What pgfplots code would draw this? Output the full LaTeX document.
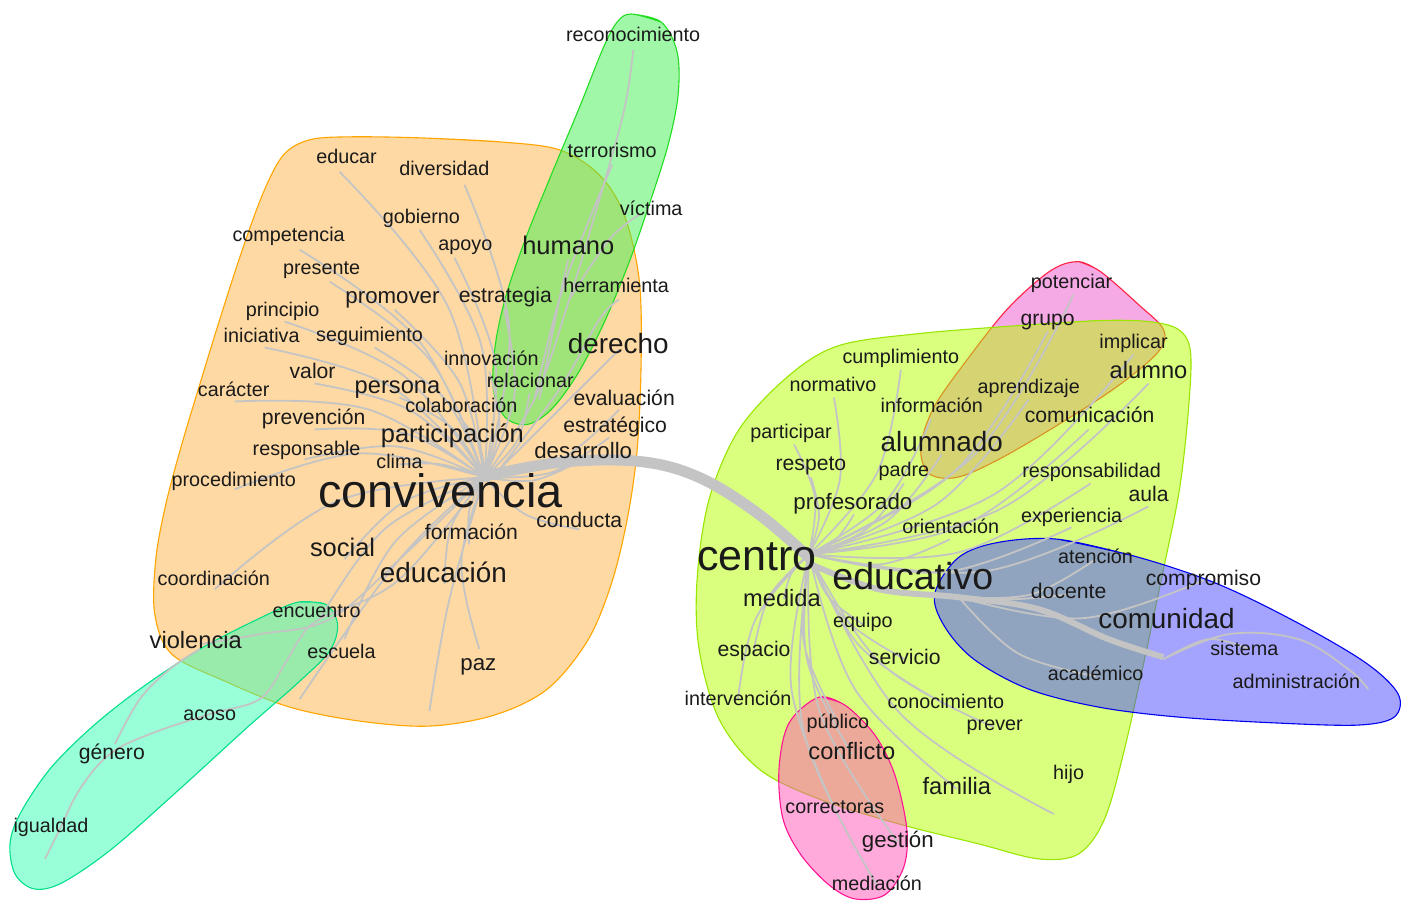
\documentclass[border=0pt]{standalone}
\usepackage{pgfplots}
\pgfplotsset{compat=1.18}
\usepackage{fontspec}
\setmainfont{Liberation Sans}

\definecolor{orF}{HTML}{FFB347}\definecolor{orS}{HTML}{FFA500}
\definecolor{grF}{HTML}{40F050}\definecolor{grS}{HTML}{22DD22}
\definecolor{teF}{HTML}{33FFB3}\definecolor{teS}{HTML}{00E08A}
\definecolor{liF}{HTML}{B5FF00}\definecolor{liS}{HTML}{99E600}
\definecolor{ptF}{HTML}{EE55CC}\definecolor{ptS}{HTML}{FF2244}
\definecolor{blF}{HTML}{4A4AFF}\definecolor{blS}{HTML}{0000EE}
\definecolor{pbF}{HTML}{FF55B5}\definecolor{pbS}{HTML}{FF1493}
\definecolor{edgegray}{HTML}{C4C4C4}
\definecolor{txtcol}{HTML}{1A1A1A}

\pgfplotsset{
  halo/.style={smooth, tension=0.55, fill opacity=0.5, line width=1.1pt, mark=none},
  edgelines/.style={draw=edgegray, line width=1.8pt, smooth, tension=0.6, mark=none, unbounded coords=jump},
  wordset/.style={only marks, mark=none, nodes near coords, point meta=explicit symbolic,
     every node near coord/.append style={font=\fontsize{#1}{#1}\selectfont,
       anchor=mid, inner sep=0pt, text=txtcol, yshift={-0.26*#1pt}}},
}

\begin{document}
\begin{tikzpicture}
\begin{axis}[
  width=1403pt, height=901pt, scale only axis,
  xmin=0, xmax=1403, ymin=0, ymax=901, y dir=reverse,
  hide axis, clip=false,
]
\draw[draw=none] (axis cs:0,0) rectangle (axis cs:1403,901);

% ---------- halos ----------
\addplot[halo, draw=orS, fill=orF] coordinates {
(420,138) (500,142) (560,150) (600,175) (625,215) (640,280) (642,360) (638,450) (628,520) (612,585) (588,642) (548,690) (495,716) (430,727) (360,722) (290,708) (225,682) (172,655) (155,615) (156,560) (166,505) (182,445) (200,385) (220,320) (242,252) (264,192) (284,155) (310,140) (350,137) (420,138) (500,142)};
\addplot[halo, draw=grS, fill=grF] coordinates {
(632,14) (662,22) (678,52) (679,95) (669,145) (650,205) (629,265) (604,325) (578,375) (552,410) (528,425) (506,418) (494,390) (496,345) (507,295) (527,237) (552,175) (580,108) (604,48) (618,22) (632,14) (662,22)};
\addplot[halo, draw=teS, fill=teF] coordinates {
(298,603) (326,605) (338,625) (330,652) (298,684) (248,728) (180,790) (112,850) (62,884) (34,890) (15,875) (10,845) (20,815) (50,770) (92,728) (140,690) (200,650) (258,620) (298,603) (326,605)};
\addplot[halo, draw=ptS, fill=ptF] coordinates {
(1080,262) (1102,272) (1140,305) (1165,330) (1160,352) (1120,386) (1060,425) (1000,460) (958,478) (930,474) (922,448) (935,408) (970,358) (1010,308) (1052,271) (1080,262) (1102,272)};
\addplot[halo, draw=liS, fill=liF] coordinates {
(1020,326) (1100,321) (1150,322) (1180,330) (1192,352) (1190,410) (1181,490) (1165,570) (1146,660) (1126,750) (1106,820) (1080,855) (1040,860) (980,845) (900,825) (820,800) (760,770) (720,720) (700,650) (698,580) (710,500) (740,430) (790,376) (840,346) (920,334) (1020,326) (1100,321)};
\addplot[halo, draw=blS, fill=blF] coordinates {
(1060,540) (1140,558) (1220,585) (1300,624) (1368,664) (1400,695) (1396,718) (1360,726) (1280,724) (1180,718) (1100,708) (1030,690) (975,660) (945,626) (936,594) (960,558) (1000,543) (1060,540) (1140,558)};
\addplot[halo, draw=pbS, fill=pbF] coordinates {
(820,698) (846,706) (876,736) (896,776) (908,830) (905,868) (886,896) (856,900) (830,886) (802,856) (784,820) (780,770) (790,724) (820,698) (846,706)};

% ---------- edges ----------
\addplot[edgelines] coordinates {
(485,478) (449,308) (340,172) (nan,nan)
(485,478) (510,329) (465,185) (nan,nan)
(485,478) (482,346) (420,230) (nan,nan)
(485,478) (420,342) (300,250) (nan,nan)
(485,478) (496,364) (455,258) (nan,nan)
(485,478) (431,361) (330,282) (nan,nan)
(485,478) (460,383) (395,310) (nan,nan)
(485,478) (515,396) (505,310) (nan,nan)
(485,478) (404,376) (285,322) (nan,nan)
(485,478) (391,387) (265,348) (nan,nan)
(485,478) (446,400) (375,348) (nan,nan)
(485,478) (500,426) (490,372) (nan,nan)
(485,478) (411,411) (315,384) (nan,nan)
(485,478) (452,428) (400,398) (nan,nan)
(485,478) (518,441) (530,394) (nan,nan)
(485,478) (369,410) (235,402) (nan,nan)
(485,478) (480,445) (460,418) (nan,nan)
(485,478) (561,460) (620,410) (nan,nan)
(485,478) (406,434) (315,430) (nan,nan)
(485,478) (552,473) (610,438) (nan,nan)
(485,478) (397,447) (305,460) (nan,nan)
(485,478) (359,454) (235,490) (nan,nan)
(485,478) (534,481) (580,462) (nan,nan)
(485,478) (526,515) (580,530) (nan,nan)
(485,478) (470,510) (470,545) (nan,nan)
(485,478) (405,502) (345,560) (nan,nan)
(485,478) (452,527) (445,585) (nan,nan)
(485,478) (337,502) (215,590) (nan,nan)
(485,478) (462,563) (480,650) (nan,nan)
(485,478) (396,542) (345,640) (nan,nan)
(485,478) (386,529) (320,620) (nan,nan)
(485,478) (442,465) (400,465) (nan,nan)
(485,478) (470,462) (455,445) (nan,nan)
(485,478) (450,600) (430,712) (nan,nan)
(485,478) (400,560) (300,700) (nan,nan)
(485,478) (535,400) (570,300) (600,200) (625,110) (634,50) (nan,nan)
(535,400) (560,300) (590,220) (613,165) (nan,nan)
(570,300) (610,240) (640,215) (nan,nan)
(500,470) (560,390) (600,320) (620,300) (nan,nan)
(540,400) (560,300) (569,260) (nan,nan)
(500,470) (560,410) (610,360) (620,350) (nan,nan)
(485,478) (400,560) (330,620) (260,635) (200,645) (nan,nan)
(485,478) (400,580) (320,620) (300,640) (285,665) (260,700) (210,715) (150,735) (110,755) (80,790) (60,830) (45,860) (nan,nan)
(115,745) (140,700) (170,670) (200,650) (nan,nan)
(810,555) (878,474) (902,370) (nan,nan)
(810,555) (841,480) (835,398) (nan,nan)
(810,555) (887,502) (932,420) (nan,nan)
(810,555) (816,498) (795,445) (nan,nan)
(810,555) (820,517) (812,478) (nan,nan)
(810,555) (866,531) (905,484) (nan,nan)
(810,555) (837,540) (855,515) (nan,nan)
(810,555) (889,521) (943,455) (nan,nan)
(810,555) (939,504) (1030,400) (nan,nan)
(810,555) (965,526) (1090,430) (nan,nan)
(810,555) (956,472) (1049,332) (nan,nan)
(810,555) (974,457) (1075,295) (nan,nan)
(810,555) (997,494) (1135,355) (nan,nan)
(810,555) (1001,510) (1150,384) (nan,nan)
(810,555) (960,553) (1092,484) (nan,nan)
(810,555) (986,572) (1150,507) (nan,nan)
(810,555) (945,573) (1073,528) (nan,nan)
(810,555) (882,565) (951,540) (nan,nan)
(810,555) (792,575) (785,600) (nan,nan)
(810,555) (829,597) (864,625) (nan,nan)
(810,555) (771,596) (755,650) (nan,nan)
(810,555) (845,619) (906,660) (nan,nan)
(810,555) (757,619) (739,700) (nan,nan)
(810,555) (860,646) (946,705) (nan,nan)
(810,555) (882,664) (995,728) (nan,nan)
(810,555) (805,644) (840,725) (nan,nan)
(810,555) (808,660) (853,755) (nan,nan)
(810,555) (792,686) (836,810) (nan,nan)
(810,555) (820,710) (899,843) (nan,nan)
(810,555) (804,729) (878,886) (nan,nan)
(810,555) (856,690) (958,790) (nan,nan)
(810,555) (901,714) (1055,815) (nan,nan)
(960,598) (1033,595) (1097,560) (nan,nan)
(960,598) (1015,600) (1070,595) (nan,nan)
(960,598) (1084,619) (1205,581) (nan,nan)
(960,598) (1019,654) (1097,677) (nan,nan)
(1165,660) (1210,640) (1250,650) (nan,nan)
(1165,660) (1230,635) (1300,640) (1350,670) (1370,690)
};
% thick edges
\addplot[draw=edgegray, line width=11pt, smooth, tension=0.6, mark=none] coordinates {
(480,478) (560,463) (640,462) (700,478) (760,515) (812,560)};
\addplot[draw=edgegray, line width=6pt, smooth, tension=0.6, mark=none] coordinates {
(812,565) (880,590) (960,598) (1040,610) (1110,640) (1165,658)};

% ---------- words ----------
\addplot[wordset=19.8] table[meta=w] {
x y w
634 34 reconocimiento
613 150 terrorismo
652 208 víctima
617 285 herramienta
347 156 educar
445 168 diversidad
422 216 gobierno
289 234 competencia
466 243 apoyo
322 267 presente
283 309 principio
262 335 iniciativa
370 334 seguimiento
492 358 innovación
531 380 relacionar
234 389 carácter
462 405 colaboración
307 448 responsable
400 461 clima
234 479 procedimiento
214 578 coordinación
317 610 encuentro
342 652 escuela
210 714 acoso
51 826 igualdad
1073 281 potenciar
1135 341 implicar
902 356 cumplimiento
834 384 normativo
1030 386 aprendizaje
933 405 información
792 431 participar
905 469 padre
1093 470 responsabilidad
1073 515 experiencia
952 526 orientación
1097 556 atención
864 621 equipo
1246 649 sistema
1097 674 académico
1298 682 administración
739 699 intervención
947 702 conocimiento
996 724 prever
839 722 público
1070 773 hijo
836 807 correctoras
878 884 mediación
};
\addplot[wordset=21.2] table[meta=w] {
x y w
616 425 estratégico
314 417 prevención
1049 318 grupo
112 752 género
812 463 respeto
1205 578 compromiso
1091 415 comunicación
1070 591 docente
625 398 evaluación
755 649 espacio
906 657 servicio
1150 494 aula
313 371 valor
472 532 formación
506 295 estrategia
580 520 conducta
};
\addplot[wordset=22.3] table[meta=w] {
x y w
393 295 promover
584 451 desarrollo
479 663 paz
899 840 gestión
854 502 profesorado
};
\addplot[wordset=23.7] table[meta=w] {
x y w
398 385 persona
196 641 violencia
1150 370 alumno
853 752 conflicto
783 598 medida
958 787 familia
};
\addplot[wordset=25.5] table[meta=w] {
x y w
569 246 humano
453 434 participación
343 548 social
};
\addplot[wordset=27.9] table[meta=w] {
x y w
619 344 derecho
943 442 alumnado
444 573 educación
1168 619 comunidad
};
\addplot[wordset=37.6] table[meta=w] {
x y w
914 578 educativo
};
\addplot[wordset=43.1] table[meta=w] {
x y w
758 557 centro
};
\addplot[wordset=46.9] table[meta=w] {
x y w
441 493 convivencia
};
\end{axis}
\end{tikzpicture}
\end{document}
